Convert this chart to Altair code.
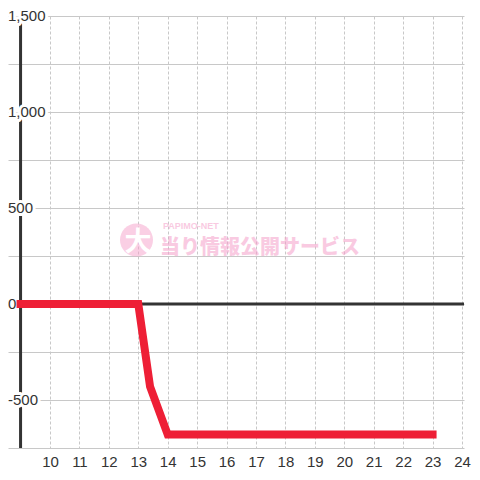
import altair as alt
import pandas as pd

# --- data ---
hours = [9, 13, 13.4, 14, 23]
values = [0, 0, -430, -680, -680]
x_ticks = list(range(10, 25))
y_grid = list(range(-750, 1501, 250))
y_label_vals = [1500, 1000, 500, 0, -500]
y_label_text = ["1,500", "1,000", "500", "0", "-500"]

W, H = 456, 432
FONT = "Liberation Sans"
PINK = "#f59fca"
xs = alt.Scale(domain=[8.573, 24.068], nice=False, zero=False)
ys = alt.Scale(domain=[-750, 1500], nice=False, zero=False)

AX = alt.Axis(values=x_ticks, grid=True, gridDash=[3, 2], gridColor="#c8c8c8",
              domain=False, ticks=False, labelFontSize=15, labelColor="#333333",
              labelFont=FONT, labelPadding=6, labelOverlap=False,
              labelFlush=False, labelBound=False, title=None)
AY = alt.Axis(values=y_grid, grid=True, gridColor="#c8c8c8", labels=False,
              domain=False, ticks=False, title=None)

line_df = pd.DataFrame({"h": hours, "v": values})
one = pd.DataFrame({"a": [0]})

# watermark
wm_circle = alt.Chart(one).mark_circle(size=1089, color=PINK, opacity=0.5).encode(
    x=alt.value(128.5), y=alt.value(224))
wm_dai = alt.Chart(one).mark_text(text="大", font="Noto Sans CJK JP", fontWeight="bold",
                                  fontSize=27, color="white", align="center",
                                  baseline="middle").encode(x=alt.value(130), y=alt.value(227))
wm_small = alt.Chart(one).mark_text(text="PAPIMO-NET", font=FONT, fontWeight="bold",
                                    fontSize=9, color=PINK, opacity=0.55, align="left",
                                    baseline="middle").encode(x=alt.value(155), y=alt.value(209.5))
wm_big = alt.Chart(one).mark_text(text="当り情報公開サービス", font="Noto Sans CJK JP",
                                  fontWeight=900, fontSize=20, color=PINK, opacity=0.55,
                                  align="left", baseline="middle").encode(
    x=alt.value(152), y=alt.value(231.5))

zero_rule = alt.Chart(pd.DataFrame({"x1": [9], "x2": [24.068], "y": [0]})).mark_rule(
    color="#333333", strokeWidth=3).encode(
    x=alt.X("x1:Q", scale=xs, axis=AX), x2="x2:Q", y=alt.Y("y:Q", scale=ys, axis=AY))

axis_rule = alt.Chart(pd.DataFrame({"x": [9], "y1": [-750], "y2": [1500]})).mark_rule(
    color="#333333", strokeWidth=3).encode(
    x=alt.X("x:Q", scale=xs, axis=AX), y=alt.Y("y1:Q", scale=ys, axis=AY), y2="y2:Q")

line = alt.Chart(line_df).mark_line(color="#ee1f36", strokeWidth=8, strokeCap="square",
                                    strokeJoin="miter").encode(
    x=alt.X("h:Q", scale=xs, axis=AX), y=alt.Y("v:Q", scale=ys, axis=AY))

labels_df = pd.DataFrame({"v": y_label_vals, "t": y_label_text})
halo = alt.Chart(labels_df).mark_text(align="left", baseline="middle", fontSize=15, font=FONT,
                                      color="white", stroke="white", strokeWidth=6,
                                      strokeJoin="round").encode(
    x=alt.value(0), y=alt.Y("v:Q", scale=ys, axis=AY), text="t:N")
ylabels = alt.Chart(labels_df).mark_text(align="left", baseline="middle", fontSize=15,
                                         font=FONT, color="#333333").encode(
    x=alt.value(0), y=alt.Y("v:Q", scale=ys, axis=AY), text="t:N")

chart = alt.layer(wm_circle, wm_dai, wm_small, wm_big, zero_rule, axis_rule,
                  halo, line, ylabels).properties(
    width=W, height=H,
    autosize=alt.AutoSizeParams(type="none"),
    padding={"left": 0, "top": 8, "right": 8, "bottom": 24},
).configure_view(stroke=None)

chart.save("out.html", embed_options={"renderer": "svg", "actions": False})
